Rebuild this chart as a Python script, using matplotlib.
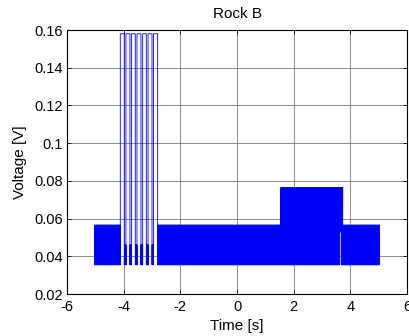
import numpy as np
import matplotlib
matplotlib.use("Agg")
import matplotlib.pyplot as plt

plt.rcParams['font.family'] = ['Liberation Sans', 'DejaVu Sans']
plt.rcParams['axes.unicode_minus'] = False

# Noisy band segments of the recorded voltage: time span and band limits
seg_start = [-5.03, -2.80, 1.55, 3.61, 3.68, 3.73]
seg_end = [-4.12, 1.55, 3.61, 3.68, 3.73, 5.02]
seg_low = [0.0355, 0.0355, 0.0355, 0.053, 0.0355, 0.0355]
seg_high = [0.0565, 0.0565, 0.0765, 0.0765, 0.0765, 0.0565]

# Saturated pulses between about -4.1 s and -2.8 s
pulse_start = [-4.12, -3.92, -3.72, -3.53, -3.33, -3.14, -2.95]
pulse_end = [-3.98, -3.78, -3.59, -3.39, -3.20, -3.00, -2.80]
pulse_top = 0.158
pulse_floor = 0.0355
between_high = 0.046

title = "Rock B"
xlabel = "Time [s]"
ylabel = "Voltage [V]"
xticks = [-6, -4, -2, 0, 2, 4, 6]
yticks = [0.02, 0.04, 0.06, 0.08, 0.1, 0.12, 0.14, 0.16]
ytick_labels = ["0.02", "0.04", "0.06", "0.08", "0.1", "0.12", "0.14", "0.16"]

SAMPLES_PER_SECOND = 700


def band(a, b, lo, hi):
    n = max(int((b - a) * SAMPLES_PER_SECOND), 4)
    t = np.linspace(a, b, n)
    v = np.where(np.arange(n) % 2 == 0, lo, hi)
    return t, v


pieces_t, pieces_v = [], []

# first quiet stretch
t, v = band(seg_start[0], seg_end[0], seg_low[0], seg_high[0])
pieces_t.append(t); pieces_v.append(v)

# pulse train with short noisy floors in between
for i, (a, b) in enumerate(zip(pulse_start, pulse_end)):
    pieces_t.append(np.array([a, a, b, b]))
    pieces_v.append(np.array([pulse_floor, pulse_top, pulse_top, pulse_floor]))
    if i + 1 < len(pulse_start):
        t, v = band(b, pulse_start[i + 1], pulse_floor, between_high)
        pieces_t.append(t); pieces_v.append(v)

# remaining stretches
for a, b, lo, hi in zip(seg_start[1:], seg_end[1:], seg_low[1:], seg_high[1:]):
    t, v = band(a, b, lo, hi)
    pieces_t.append(t); pieces_v.append(v)

time = np.concatenate(pieces_t)
volt = np.concatenate(pieces_v)

fig = plt.figure(figsize=(4.09, 3.36), dpi=100)
ax = fig.add_axes([67 / 409, 1 - 294 / 336, 340 / 409, 264 / 336])
ax.plot(time, volt, color='#0000ff', linewidth=0.6)

ax.set_xlim(-6, 6)
ax.set_ylim(0.02, 0.16)
ax.set_xticks(xticks)
ax.set_yticks(yticks)
ax.set_yticklabels(ytick_labels)
ax.grid(True, color='#7a7a7a', linewidth=0.6, linestyle='-')
ax.tick_params(direction='in', length=3, width=0.6, labelsize=10.5,
               top=True, right=True)
ax.tick_params(axis='x', pad=4)
ax.tick_params(axis='y', pad=3)
for s in ax.spines.values():
    s.set_linewidth(0.8)
ax.set_title(title, fontsize=11, pad=9)
ax.set_xlabel(xlabel, fontsize=11, labelpad=4)
ax.set_ylabel(ylabel, fontsize=11, labelpad=5)

fig.savefig("out.png", dpi=100)
